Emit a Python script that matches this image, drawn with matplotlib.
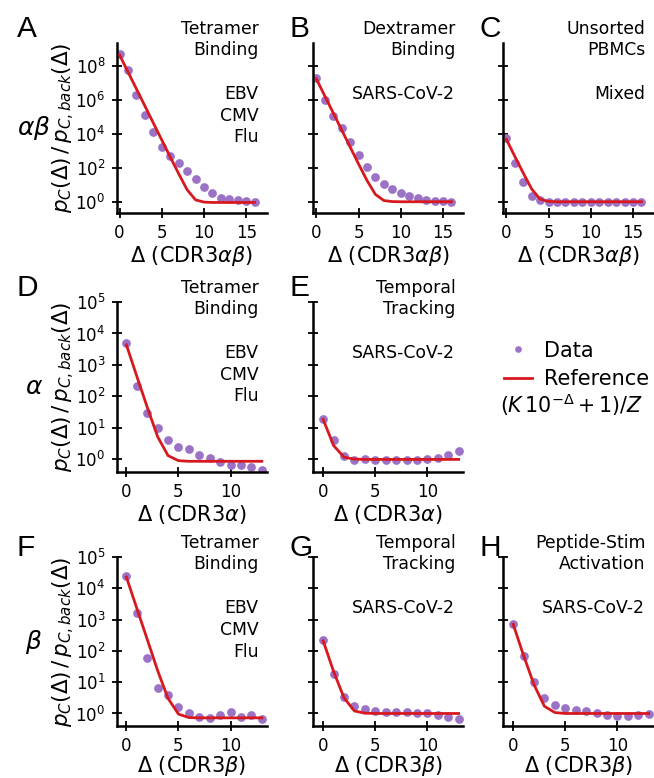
import numpy as np
import matplotlib.pyplot as plt

# Delta values (number of mismatches)
delta_ab = np.arange(17)
delta_a = np.arange(14)
delta_b = np.arange(14)

# log10 of p_C(Delta)/p_C,back(Delta)
A_data = [8.67, 7.75, 6.27, 5.10, 4.12, 3.24, 2.70, 2.25, 1.80, 1.31, 0.88, 0.49, 0.25, 0.14, 0.10, 0.06, 0.00]
A_ref = [8.63, 7.63, 6.63, 5.63, 4.63, 3.63, 2.63, 1.65, 0.71, 0.11, -0.02, -0.04, -0.04, -0.04, -0.04, -0.04, -0.04]
B_data = [7.29, 5.98, 5.06, 4.35, 3.53, 2.75, 2.06, 1.47, 1.02, 0.75, 0.49, 0.33, 0.20, 0.10, 0.06, 0.04, 0.00]
B_ref = [7.22, 6.22, 5.22, 4.22, 3.22, 2.22, 1.25, 0.43, 0.07, 0.01, 0.0, 0.0, 0.0, 0.0, 0.0, 0.0, 0.0]
C_data = [3.76, 2.29, 1.14, 0.35, 0.10, 0.0, 0.0, 0.0, 0.0, 0.0, 0.0, 0.0, 0.0, 0.0, 0.0, 0.0, 0.0]
C_ref = [3.67, 2.67, 1.69, 0.75, 0.15, 0.02, 0.0, 0.0, 0.0, 0.0, 0.0, 0.0, 0.0, 0.0, 0.0, 0.0, 0.0]
D_data = [3.69, 2.33, 1.46, 1.00, 0.61, 0.39, 0.34, 0.15, 0.05, -0.09, -0.17, -0.19, -0.24, -0.33]
D_ref = [3.64, 2.64, 1.66, 0.72, 0.12, -0.04, -0.06, -0.06, -0.06, -0.06, -0.06, -0.06, -0.06, -0.06]
E_data = [1.28, 0.61, 0.10, -0.01, 0.01, -0.03, -0.03, -0.03, -0.03, -0.02, 0.01, 0.05, 0.13, 0.26]
E_ref = [1.27, 0.44, 0.07, 0.01, 0.0, 0.0, 0.0, 0.0, 0.0, 0.0, 0.0, 0.0, 0.0, 0.0]
F_data = [4.39, 3.22, 1.77, 0.80, 0.59, 0.21, 0.01, -0.11, -0.16, -0.04, 0.05, -0.11, -0.04, -0.18]
F_ref = [4.36, 3.36, 2.37, 1.37, 0.48, -0.02, -0.13, -0.14, -0.14, -0.14, -0.14, -0.14, -0.14, -0.14]
G_data = [2.34, 1.26, 0.54, 0.23, 0.14, 0.09, 0.05, 0.05, 0.05, 0.03, 0.00, -0.05, -0.11, -0.18]
G_ref = [2.32, 1.34, 0.50, 0.08, 0.01, 0.0, 0.0, 0.0, 0.0, 0.0, 0.0, 0.0, 0.0, 0.0]
H_data = [2.87, 1.84, 1.01, 0.48, 0.28, 0.17, 0.12, 0.09, 0.00, -0.04, -0.07, -0.07, -0.05, -0.02]
H_ref = [2.85, 1.85, 0.92, 0.23, 0.03, 0.0, 0.0, 0.0, 0.0, 0.0, 0.0, 0.0, 0.0, 0.0]

purple = '#9c72c6'
red = '#d7191f'

W, H = 654, 778
fig = plt.figure(figsize=(W / 100, H / 100), dpi=100)


def add_ax(left, top, w=150, h=170):
    return fig.add_axes([left / W, 1 - (top + h) / H, w / W, h / H])


panels = [
    # letter, left, top, x, data, ref, xlabel, text, row label
    ('A', 116.5, 43, delta_ab, A_data, A_ref, r'$\Delta$ (CDR3$\alpha\beta$)',
     'Tetramer\nBinding\n\nEBV\nCMV\nFlu', r'$\alpha\beta$'),
    ('B', 313.3, 43, delta_ab, B_data, B_ref, r'$\Delta$ (CDR3$\alpha\beta$)',
     'Dextramer\nBinding\n\nSARS-CoV-2', None),
    ('C', 503.3, 43, delta_ab, C_data, C_ref, r'$\Delta$ (CDR3$\alpha\beta$)',
     'Unsorted\nPBMCs\n\nMixed', None),
    ('D', 116.5, 302, delta_a, D_data, D_ref, r'$\Delta$ (CDR3$\alpha$)',
     'Tetramer\nBinding\n\nEBV\nCMV\nFlu', r'$\alpha$'),
    ('E', 313.3, 302, delta_a, E_data, E_ref, r'$\Delta$ (CDR3$\alpha$)',
     'Temporal\nTracking\n\nSARS-CoV-2', None),
    ('F', 116.5, 557, delta_b, F_data, F_ref, r'$\Delta$ (CDR3$\beta$)',
     'Tetramer\nBinding\n\nEBV\nCMV\nFlu', r'$\beta$'),
    ('G', 313.3, 557, delta_b, G_data, G_ref, r'$\Delta$ (CDR3$\beta$)',
     'Temporal\nTracking\n\nSARS-CoV-2', None),
    ('H', 503.3, 557, delta_b, H_data, H_ref, r'$\Delta$ (CDR3$\beta$)',
     'Peptide-Stim\nActivation\n\nSARS-CoV-2', None),
]

for letter, left, top, x, dat, ref, xlab, txt, rowlab in panels:
    ax = add_ax(left, top, h=169 if letter in 'FGH' else 170)
    ax.plot(x, 10 ** np.array(dat), 'o', ms=6.3, color=purple, mec='none', zorder=2)
    ax.plot(x, 10 ** np.array(ref), '-', lw=2, color=red, zorder=3)
    ax.set_yscale('log')
    if letter in 'ABC':
        ax.set_xlim(-0.36, 17.4)
        ax.set_ylim(10 ** -0.66, 10 ** 9.33)
        ax.set_xticks([0, 5, 10, 15])
        ax.set_yticks([1e0, 1e2, 1e4, 1e6, 1e8])
    else:
        ax.set_xlim(-0.95, 13.45)
        ax.set_ylim(10 ** -0.4, 1e5)
        ax.set_xticks([0, 5, 10])
        ax.set_yticks([1e0, 1e1, 1e2, 1e3, 1e4, 1e5])
    ax.yaxis.set_minor_locator(plt.NullLocator())
    for s in ['top', 'right']:
        ax.spines[s].set_visible(False)
    for s in ['left', 'bottom']:
        ax.spines[s].set_linewidth(1.8)
    ax.tick_params(direction='inout', length=7, width=1.3, labelsize=12, pad=4.5)
    ax.set_xlabel(xlab, fontsize=15, labelpad=-0.6 if letter in 'FGH' else 1)
    if rowlab is None:
        ax.set_yticklabels([])
    else:
        ax.set_ylabel(r'$p_C(\Delta)\,/\,p_{C,back}(\Delta)$', fontsize=15.5)
        ax.yaxis.set_label_coords(-0.262, 0.5)
        ax.text(-0.55, 0.5, rowlab,
                transform=ax.transAxes, fontsize=18, ha='center', va='center')
    ax.text(0.947, 1.138, txt, transform=ax.transAxes, fontsize=12.4,
            ha='right', va='top', linespacing=1.27)
    dx = 100 if letter in 'ADF' else 24
    dy = 23 if letter in 'FGH' else 28
    fig.text((left - dx) / W, 1 - (top - dy) / H, letter, fontsize=21.5,
             family='Liberation Sans', ha='left', va='top')

# legend in the empty slot
h1, = plt.plot([], [], 'o', ms=6, color=purple, mec='none', label='Data')
h2, = plt.plot([], [], '-', lw=2, color=red, label='Reference')
fig.legend(handles=[h1, h2], loc='upper left', bbox_to_anchor=(489 / W, 1 - 326 / H),
           frameon=False, fontsize=15, handlelength=1.35, handletextpad=0.58,
           labelspacing=0.41, markerscale=0.8, borderpad=0.2)
fig.text(500 / W, 1 - 405 / H, r'$(K\,10^{-\Delta}+1)/Z$', fontsize=14.8,
         ha='left', va='center')

fig.savefig('out.png', dpi=100)
